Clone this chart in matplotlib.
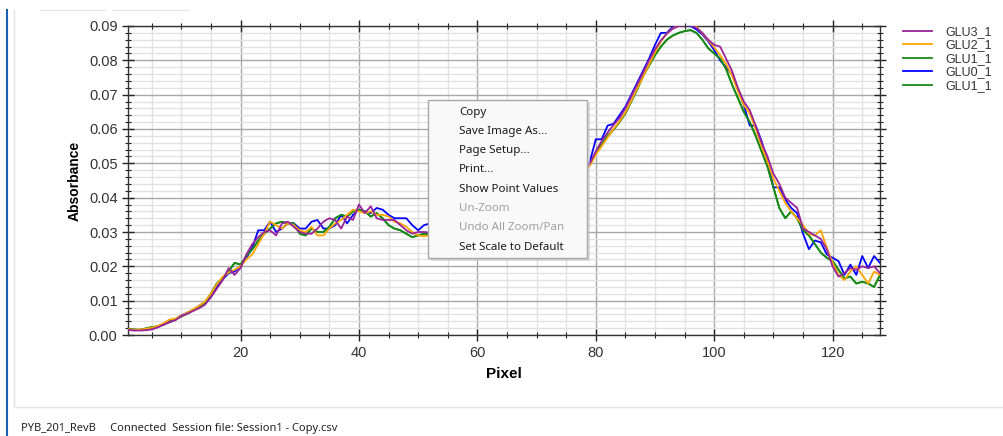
import numpy as np
import matplotlib
matplotlib.use("Agg")
import matplotlib.pyplot as plt
from matplotlib.ticker import MultipleLocator, FormatStrFormatter
from matplotlib.patches import Rectangle

# absorbance per detector pixel
pixel = np.arange(1, 129)

glu3_1 = [
    0.0015, 0.0013, 0.0013, 0.0014, 0.0016, 0.0022, 0.0030, 0.0037, 0.0043, 0.0055,
    0.0062, 0.0070, 0.0078, 0.0088, 0.0110, 0.0135, 0.0160, 0.0195, 0.0175, 0.0195,
    0.0235, 0.0265, 0.0285, 0.0300, 0.0305, 0.0290, 0.0325, 0.0330, 0.0315, 0.0300,
    0.0295, 0.0295, 0.0310, 0.0330, 0.0340, 0.0335, 0.0310, 0.0345, 0.0335, 0.0380,
    0.0355, 0.0375, 0.0340, 0.0335, 0.0335, 0.0335, 0.0320, 0.0305, 0.0295, 0.0300,
    0.0300, 0.0298, 0.0292, 0.0288, 0.0290, 0.0287, 0.0290, 0.0293, 0.0296, 0.0302,
    0.0306, 0.0312, 0.0316, 0.0321, 0.0326, 0.0331, 0.0339, 0.0347, 0.0356, 0.0366,
    0.0376, 0.0387, 0.0401, 0.0412, 0.0427, 0.0441, 0.0457, 0.0476, 0.0500, 0.0535,
    0.0565, 0.0590, 0.0612, 0.0632, 0.0660, 0.0695, 0.0730, 0.0765, 0.0800, 0.0832,
    0.0858, 0.0878, 0.0892, 0.0900, 0.0902, 0.0903, 0.0895, 0.0880, 0.0860, 0.0845,
    0.0840, 0.0805, 0.0770, 0.0720, 0.0680, 0.0655, 0.0610, 0.0560, 0.0520, 0.0470,
    0.0440, 0.0400, 0.0385, 0.0370, 0.0310, 0.0300, 0.0290, 0.0280, 0.0250, 0.0200,
    0.0170, 0.0180, 0.0195, 0.0190, 0.0200, 0.0195, 0.0200, 0.0180,
]

glu2_1 = [
    0.0017, 0.0015, 0.0016, 0.0018, 0.0021, 0.0026, 0.0034, 0.0045, 0.0048, 0.0056,
    0.0065, 0.0075, 0.0085, 0.0098, 0.0120, 0.0148, 0.0170, 0.0182, 0.0190, 0.0200,
    0.0220, 0.0235, 0.0265, 0.0295, 0.0330, 0.0320, 0.0310, 0.0325, 0.0320, 0.0305,
    0.0300, 0.0315, 0.0290, 0.0290, 0.0310, 0.0325, 0.0335, 0.0350, 0.0365, 0.0360,
    0.0355, 0.0360, 0.0350, 0.0350, 0.0345, 0.0330, 0.0325, 0.0315, 0.0300, 0.0290,
    0.0288, 0.0290, 0.0288, 0.0285, 0.0287, 0.0286, 0.0288, 0.0290, 0.0294, 0.0298,
    0.0303, 0.0308, 0.0313, 0.0318, 0.0323, 0.0328, 0.0336, 0.0343, 0.0352, 0.0362,
    0.0372, 0.0382, 0.0396, 0.0407, 0.0420, 0.0436, 0.0450, 0.0470, 0.0493, 0.0525,
    0.0550, 0.0575, 0.0600, 0.0622, 0.0648, 0.0682, 0.0718, 0.0752, 0.0788, 0.0823,
    0.0855, 0.0878, 0.0893, 0.0902, 0.0903, 0.0902, 0.0898, 0.0878, 0.0858, 0.0838,
    0.0815, 0.0790, 0.0755, 0.0710, 0.0670, 0.0645, 0.0600, 0.0550, 0.0505, 0.0455,
    0.0420, 0.0385, 0.0360, 0.0340, 0.0320, 0.0295, 0.0290, 0.0305, 0.0255, 0.0210,
    0.0175, 0.0160, 0.0185, 0.0200, 0.0175, 0.0150, 0.0185, 0.0175,
]

glu1_1 = [
    0.0018, 0.0016, 0.0015, 0.0019, 0.0023, 0.0025, 0.0030, 0.0038, 0.0045, 0.0054,
    0.0062, 0.0072, 0.0082, 0.0095, 0.0120, 0.0150, 0.0165, 0.0185, 0.0210, 0.0205,
    0.0230, 0.0250, 0.0275, 0.0295, 0.0310, 0.0325, 0.0330, 0.0325, 0.0325, 0.0295,
    0.0290, 0.0310, 0.0300, 0.0300, 0.0315, 0.0340, 0.0350, 0.0345, 0.0360, 0.0365,
    0.0360, 0.0345, 0.0355, 0.0340, 0.0320, 0.0310, 0.0305, 0.0295, 0.0285, 0.0290,
    0.0295, 0.0293, 0.0290, 0.0287, 0.0289, 0.0288, 0.0291, 0.0293, 0.0297, 0.0301,
    0.0305, 0.0311, 0.0315, 0.0320, 0.0325, 0.0331, 0.0338, 0.0346, 0.0355, 0.0364,
    0.0374, 0.0385, 0.0398, 0.0410, 0.0424, 0.0439, 0.0453, 0.0474, 0.0497, 0.0530,
    0.0555, 0.0580, 0.0598, 0.0620, 0.0645, 0.0680, 0.0715, 0.0755, 0.0785, 0.0815,
    0.0840, 0.0860, 0.0872, 0.0880, 0.0885, 0.0888, 0.0880, 0.0860, 0.0835, 0.0820,
    0.0805, 0.0775, 0.0730, 0.0690, 0.0650, 0.0620, 0.0580, 0.0535, 0.0490, 0.0430,
    0.0370, 0.0340, 0.0360, 0.0340, 0.0305, 0.0290, 0.0265, 0.0240, 0.0225, 0.0215,
    0.0190, 0.0165, 0.0170, 0.0150, 0.0155, 0.0150, 0.0140, 0.0175,
]

glu0_1 = [
    0.0015, 0.0014, 0.0015, 0.0017, 0.0019, 0.0023, 0.0031, 0.0040, 0.0046, 0.0057,
    0.0065, 0.0073, 0.0085, 0.0095, 0.0112, 0.0140, 0.0162, 0.0180, 0.0185, 0.0200,
    0.0225, 0.0255, 0.0305, 0.0305, 0.0330, 0.0300, 0.0310, 0.0325, 0.0325, 0.0310,
    0.0310, 0.0330, 0.0335, 0.0310, 0.0310, 0.0320, 0.0350, 0.0325, 0.0350, 0.0365,
    0.0360, 0.0355, 0.0370, 0.0365, 0.0350, 0.0340, 0.0340, 0.0340, 0.0320, 0.0305,
    0.0320, 0.0325, 0.0305, 0.0295, 0.0292, 0.0291, 0.0294, 0.0296, 0.0300, 0.0304,
    0.0309, 0.0314, 0.0319, 0.0323, 0.0328, 0.0334, 0.0341, 0.0349, 0.0358, 0.0368,
    0.0378, 0.0389, 0.0403, 0.0414, 0.0430, 0.0445, 0.0460, 0.0480, 0.0505, 0.0570,
    0.0570, 0.0610, 0.0615, 0.0640, 0.0665, 0.0700, 0.0735, 0.0770, 0.0805, 0.0845,
    0.0880, 0.0880, 0.0898, 0.0902, 0.0903, 0.0900, 0.0890, 0.0875, 0.0855, 0.0830,
    0.0800, 0.0780, 0.0760, 0.0715, 0.0670, 0.0610, 0.0610, 0.0565, 0.0505, 0.0430,
    0.0430, 0.0395, 0.0370, 0.0355, 0.0295, 0.0250, 0.0275, 0.0270, 0.0235, 0.0225,
    0.0215, 0.0175, 0.0205, 0.0175, 0.0230, 0.0195, 0.0230, 0.0210,
]

labels = ["GLU3_1", "GLU2_1", "GLU1_1", "GLU0_1", "GLU1_1"]
values = [glu3_1, glu2_1, glu1_1, glu0_1, glu1_1]
colors = ["#9a239a", "#ffa500", "#188a18", "#0000ff", "#188a18"]

menu_items = ["Copy", "Save Image As...", "Page Setup...", "Print...",
              "Show Point Values", "Un-Zoom", "Undo All Zoom/Pan", "Set Scale to Default"]
menu_disabled = {"Un-Zoom", "Undo All Zoom/Pan"}

plt.rcParams["font.family"] = ["Liberation Sans", "DejaVu Sans"]

W, H = 1004, 436
fig = plt.figure(figsize=(W / 100, H / 100), dpi=100)
fig.patch.set_facecolor("white")

# plot area in pixel box: x 128..880, y 26..335
ax = fig.add_axes([128 / W, 1 - 335 / H, (880 - 128) / W, (335 - 26) / H])

# first curve in the list is drawn on top, like ZedGraph does
for i, (lab, v, c) in enumerate(zip(labels, values, colors)):
    ax.plot(pixel, v, color=c, lw=1.3, label=lab, zorder=10 - i)

ax.set_xlim(1, 128)
ax.set_ylim(0, 0.09)
ax.xaxis.set_major_locator(MultipleLocator(20))
ax.xaxis.set_minor_locator(MultipleLocator(5))
ax.yaxis.set_major_locator(MultipleLocator(0.01))
ax.yaxis.set_minor_locator(MultipleLocator(0.002))
ax.yaxis.set_major_formatter(FormatStrFormatter("%.2f"))

ax.grid(which="major", color="#a8a8a8", lw=1.0, zorder=0)
ax.grid(which="minor", color="#e2e2e2", lw=1.0, zorder=0)
ax.set_axisbelow(True)

ax.tick_params(which="both", direction="inout", top=True, right=True,
               labelsize=10.5, colors="#222222", labelcolor="#333333")
ax.tick_params(which="major", length=8, width=1)
ax.tick_params(which="minor", length=5, width=0.8)
ax.tick_params(axis="x", pad=4)
for s in ax.spines.values():
    s.set_color("#333333")
    s.set_linewidth(1.0)

ax.set_xlabel("Pixel", fontsize=11, fontweight="bold", labelpad=5)
ax.set_ylabel("Absorbance", fontsize=10, fontweight="bold", labelpad=5)

leg = fig.legend(loc="upper left", bbox_to_anchor=(903 / W, 1 - 26 / H),
                 frameon=False, fontsize=9, handlelength=2.3, handletextpad=1.1,
                 labelspacing=0.12, borderpad=0, borderaxespad=0)
for t in leg.get_texts():
    t.set_color("#333333")

# window chrome and the open context menu, drawn in pixel coordinates
ov = fig.add_axes([0, 0, 1, 1], zorder=20)
ov.set_xlim(0, W)
ov.set_ylim(H, 0)
ov.axis("off")
ov.patch.set_alpha(0)

ov.plot([7, 7], [10, 436], color="#1e5fb4", lw=1.5)
ov.plot([14, 14], [10, 407], color="#e3e3e3", lw=1.0)
ov.plot([14, 1004], [407, 407], color="#e3e3e3", lw=1.0)
ov.plot([40, 105], [10, 10], color="#e6e6e6", lw=1.0)
ov.plot([112, 188], [10, 10], color="#e6e6e6", lw=1.0)
ov.text(21, 423, "PYB_201_RevB     Connected  Session file: Session1 - Copy.csv",
        fontsize=8, va="top", ha="left", color="#222222", family=["Noto Sans", "DejaVu Sans"])

ov.add_patch(Rectangle((431, 103), 159, 158, fc="#c8c8c8", ec="none", alpha=0.6))
ov.add_patch(Rectangle((428, 100), 159, 158, fc="#f9f9f9", ec="#a8a8a8", lw=1.0))
for i, item in enumerate(menu_items):
    ov.text(459, 112 + i * 19.3, item, fontsize=8.3, va="center", ha="left",
            color="#a0a0a0" if item in menu_disabled else "#1a1a1a",
            family=["Noto Sans", "DejaVu Sans"])

fig.savefig("out.png", dpi=100, facecolor="white")
